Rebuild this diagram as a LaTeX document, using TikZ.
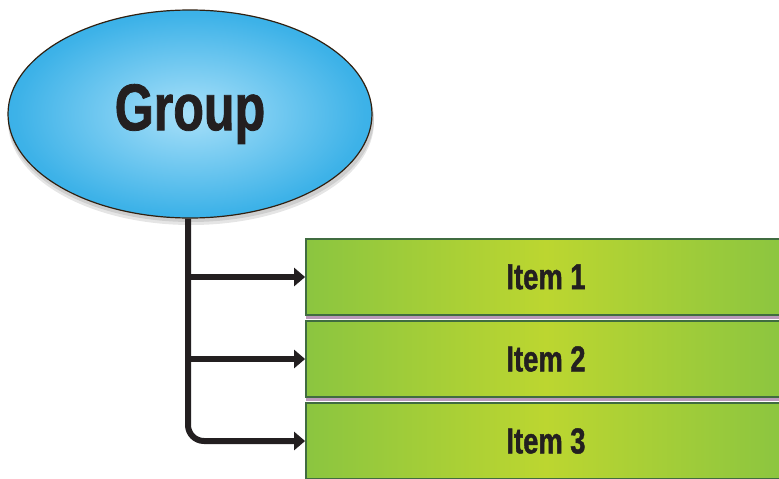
\documentclass[tikz,border=0pt]{standalone}
\usepackage{fontspec}
\setmainfont{Liberation Sans}
\newfontfamily\cond[FakeStretch=0.76,FakeBold=1.2]{Liberation Sans}
\usetikzlibrary{arrows.meta,shapes.geometric}
\definecolor{txt}{HTML}{231F20}
\definecolor{gedge}{HTML}{8BC540}
\definecolor{gmid}{HTML}{BCD630}
\definecolor{bin}{HTML}{A8E0F9}
\definecolor{bmid}{HTML}{3DB2E8}
\definecolor{bout}{HTML}{0C99D8}
\pgfdeclareradialshading{bluerad}{\pgfpoint{0bp}{0bp}}{color(0bp)=(bin); color(24bp)=(bmid); color(50bp)=(bout)}
\pgfdeclarehorizontalshading{greenh}{100bp}{color(0bp)=(gedge); color(25bp)=(gedge); color(50bp)=(gmid); color(75bp)=(gedge); color(100bp)=(gedge)}
\tikzset{
  grp/.style={ellipse, draw=black!75!brown, line width=1.2pt, shading=bluerad,
    minimum width=364pt, minimum height=208pt, inner sep=0pt,
    font=\cond\bfseries\fontsize{66}{66}\selectfont, text=txt},
  itembox/.style={rectangle, draw=black!65!green!50!gray, line width=1.8pt, shading=greenh,
    minimum width=480pt, minimum height=76pt, inner sep=0pt,
    font=\cond\bfseries\fontsize{36}{36}\selectfont, text=txt},
  boxshadow/.style={fill=black!35!violet!40!white},
  conn/.style={line width=6pt, draw=txt, -{Triangle[length=11pt,width=18pt]}},
  trunk/.style={line width=6pt, draw=txt, rounded corners=16pt, -{Triangle[length=11pt,width=18pt]}}
}
\begin{document}
\begin{tikzpicture}[x=1pt,y=-1pt]
\useasboundingbox (0,0) rectangle (779,479);
\clip (0,0) rectangle (779,479);
% shadow of ellipse
\fill[black, opacity=0.10] (191,122) ellipse (183 and 103);
\fill[black, opacity=0.10] (191,119) ellipse (183 and 103);
% boxes shadows
\foreach \y in {277,359,441} {\fill[boxshadow] (306,\y-36) rectangle (790,\y+42);}
\node[itembox] (i1) at (546,277) {Item 1};
\node[itembox] (i2) at (546,359) {Item 2};
\node[itembox] (i3) at (546,441) {Item 3};
\node[grp] (g) at (190,114) {Group};
\coordinate (t1) at (188,277);
\coordinate (t2) at (188,359);
\draw[trunk] (g.south -| t1) -- (t1 |- i3.west) -- (i3.west);
\draw[conn] (t1) -- (i1.west);
\draw[conn] (t2) -- (i2.west);
\end{tikzpicture}
\end{document}
